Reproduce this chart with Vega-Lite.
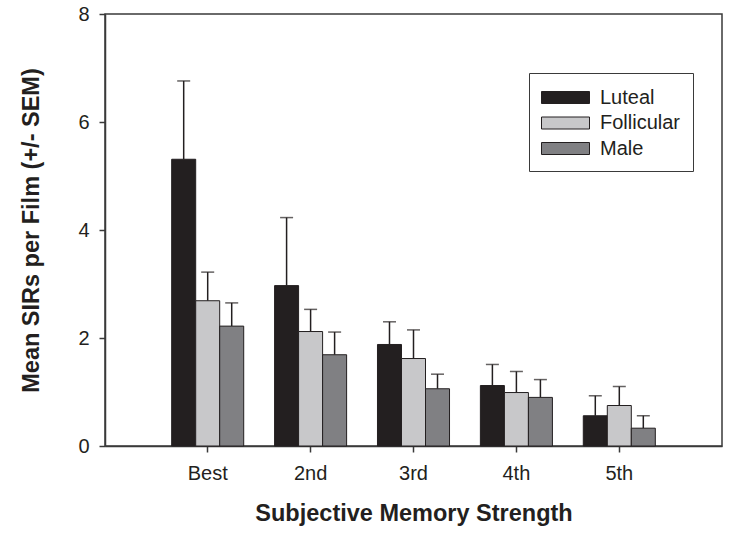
{
  "$schema": "https://vega.github.io/schema/vega-lite/v6.json",
  "width": 617,
  "height": 432,
  "autosize": {"type": "none"},
  "padding": {"left": 105, "top": 14, "right": 8, "bottom": 91},
  "background": "white",
  "config": {
    "font": "Liberation Sans",
    "view": {"stroke": "#3a3a3a", "strokeWidth": 1.5},
    "axis": {
      "domainColor": "#3a3a3a",
      "domainWidth": 1.5,
      "tickColor": "#3a3a3a",
      "tickWidth": 1.5,
      "tickSize": 6,
      "grid": false,
      "labelColor": "#231f20",
      "labelFont": "Liberation Sans",
      "labelFontSize": 20,
      "titleColor": "#231f20",
      "titleFont": "Liberation Sans",
      "titleFontSize": 23.5,
      "titleFontWeight": "bold"
    }
  },
  "data": {
    "values": [
      {"rank": "Best", "group": "Luteal", "mean": 5.31, "upper": 6.76},
      {"rank": "Best", "group": "Follicular", "mean": 2.69, "upper": 3.22},
      {"rank": "Best", "group": "Male", "mean": 2.22, "upper": 2.65},
      {"rank": "2nd", "group": "Luteal", "mean": 2.97, "upper": 4.23},
      {"rank": "2nd", "group": "Follicular", "mean": 2.12, "upper": 2.53},
      {"rank": "2nd", "group": "Male", "mean": 1.69, "upper": 2.11},
      {"rank": "3rd", "group": "Luteal", "mean": 1.88, "upper": 2.30},
      {"rank": "3rd", "group": "Follicular", "mean": 1.62, "upper": 2.15},
      {"rank": "3rd", "group": "Male", "mean": 1.06, "upper": 1.33},
      {"rank": "4th", "group": "Luteal", "mean": 1.12, "upper": 1.51},
      {"rank": "4th", "group": "Follicular", "mean": 0.99, "upper": 1.38},
      {"rank": "4th", "group": "Male", "mean": 0.90, "upper": 1.23},
      {"rank": "5th", "group": "Luteal", "mean": 0.56, "upper": 0.93},
      {"rank": "5th", "group": "Follicular", "mean": 0.75, "upper": 1.10},
      {"rank": "5th", "group": "Male", "mean": 0.33, "upper": 0.56}
    ]
  },
  "encoding": {
    "x": {
      "field": "rank",
      "type": "nominal",
      "sort": ["Best", "2nd", "3rd", "4th", "5th"],
      "scale": {"paddingInner": 0.3, "paddingOuter": 0.648},
      "axis": {
        "title": "Subjective Memory Strength",
        "labelAngle": 0,
        "labelPadding": 11,
        "titleY": 67,
        "titleBaseline": "middle",
        "domain": true
      }
    },
    "xOffset": {
      "field": "group",
      "type": "nominal",
      "sort": ["Luteal", "Follicular", "Male"],
      "scale": {"paddingInner": 0, "paddingOuter": 0}
    }
  },
  "layer": [
    {
      "mark": {"type": "rule", "color": "#231f20", "strokeWidth": 1.5},
      "encoding": {
        "y": {"field": "mean", "type": "quantitative"},
        "y2": {"field": "upper"}
      }
    },
    {
      "mark": {"type": "tick", "color": "#231f20", "thickness": 1.5, "size": 13},
      "encoding": {
        "y": {"field": "upper", "type": "quantitative"}
      }
    },
    {
      "mark": {"type": "bar", "stroke": "#231f20", "strokeWidth": 1},
      "encoding": {
        "y": {
          "field": "mean",
          "type": "quantitative",
          "scale": {"domain": [0, 8], "nice": false},
          "axis": {
            "title": "Mean SIRs per Film (+/- SEM)",
            "values": [0, 2, 4, 6, 8],
            "labelPadding": 10,
            "titleX": -74,
            "titleY": 216,
            "titleAngle": -90,
            "titleAlign": "center",
            "titleBaseline": "middle"
          }
        },
        "fill": {
          "field": "group",
          "type": "nominal",
          "sort": ["Luteal", "Follicular", "Male"],
          "scale": {"domain": ["Luteal", "Follicular", "Male"], "range": ["#231f20", "#c8c8ca", "#808083"]},
          "legend": {
            "title": null,
            "orient": "none",
            "legendX": 424,
            "legendY": 59,
            "symbolType": "M-1,-0.5H3V0.5H-1Z",
            "symbolSize": 576,
            "symbolStrokeColor": "#231f20",
            "symbolStrokeWidth": 1,
            "symbolOpacity": 1,
            "labelFontSize": 20,
            "labelColor": "#231f20",
            "labelOffset": 34,
            "rowPadding": 2.5,
            "padding": 12,
            "strokeColor": "#3a3a3a"
          }
        }
      }
    }
  ]
}
